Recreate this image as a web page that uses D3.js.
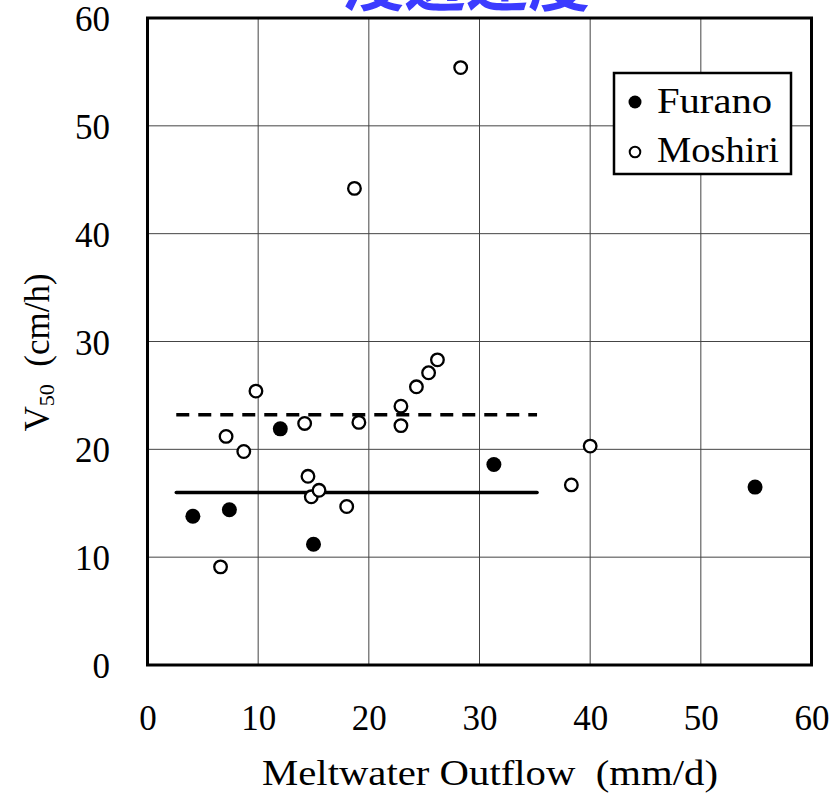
<!DOCTYPE html>
<html lang="ja">
  <head>
    <meta charset="UTF-8" />
    <title>V50 vs Meltwater Outflow</title>
    <style>
      html, body { margin: 0; padding: 0; background: #fff; }
      svg { display: block; }
      .serif { font-family: "Liberation Serif", "DejaVu Serif", serif; }
    </style>
  </head>
  <body>
    <svg width="836" height="793"></svg>

    <script src="https://d3js.org/d3.v7.min.js"></script>
    <script>
      // Furano (filled circles): [outflow mm/d, V50 cm/h]
      const furanoX = [4.1, 7.4, 12.0, 15.0, 31.3, 54.9];
      const furanoY = [13.8, 14.4, 21.9, 11.2, 18.6, 16.5];

      // Moshiri (open circles)
      const moshiriX = [6.6, 7.1, 8.7, 9.8, 14.2, 14.5, 14.8, 15.5, 18.0, 18.7,
        19.1, 22.9, 22.9, 24.3, 25.4, 26.2, 28.3, 38.3, 40.0];
      const moshiriY = [9.1, 21.2, 19.8, 25.4, 22.4, 17.5, 15.6, 16.2, 14.7, 44.2,
        22.5, 24.0, 22.2, 25.8, 27.1, 28.3, 55.4, 16.7, 20.3];

      // mean lines: [x start, x end, y]
      const meanFurano = [2.6, 35.2, 16.0];
      const meanMoshiri = [2.6, 35.2, 23.2];

      const xTicks = [0, 10, 20, 30, 40, 50, 60];
      const yTicks = [0, 10, 20, 30, 40, 50, 60];

      const svg = d3.select("svg");

      const pLeft = 147.5, pRight = 811.5, pTop = 18, pBottom = 665;

      const x = d3.scaleLinear().domain([0, 60]).range([pLeft, pRight]);
      const y = d3.scaleLinear().domain([0, 60]).range([pBottom, pTop]);

      // title, cut off by the top edge
      svg
        .append("text")
        .attr("x", 466)
        .attr("y", 6)
        .attr("text-anchor", "middle")
        .attr("fill", "#3b3bff")
        .style("font-family", '"Noto Sans CJK JP", sans-serif')
        .style("font-weight", "bold")
        .style("font-size", "62px")
        .text("浸透速度");

      // grid
      svg
        .append("g")
        .selectAll("line")
        .data(xTicks.slice(1, -1))
        .join("line")
        .attr("x1", (d) => x(d))
        .attr("x2", (d) => x(d))
        .attr("y1", pTop)
        .attr("y2", pBottom)
        .attr("stroke", "#444")
        .attr("stroke-width", 1);

      svg
        .append("g")
        .selectAll("line")
        .data(yTicks.slice(1, -1))
        .join("line")
        .attr("x1", pLeft)
        .attr("x2", pRight)
        .attr("y1", (d) => y(d))
        .attr("y2", (d) => y(d))
        .attr("stroke", "#444")
        .attr("stroke-width", 1);

      // frame
      svg
        .append("rect")
        .attr("x", pLeft)
        .attr("y", pTop)
        .attr("width", pRight - pLeft)
        .attr("height", pBottom - pTop)
        .attr("fill", "none")
        .attr("stroke", "#000")
        .attr("stroke-width", 3);

      // axes (labels only)
      const xAxis = d3.axisBottom(x).tickValues(xTicks).tickSize(0).tickPadding(40);
      const gx = svg
        .append("g")
        .attr("transform", `translate(0,${pBottom})`)
        .call(xAxis);
      gx.select(".domain").remove();
      gx.selectAll("text")
        .attr("class", "serif")
        .attr("fill", "#000")
        .style("font-size", "35px");

      const yAxis = d3.axisLeft(y).tickValues(yTicks).tickSize(0).tickPadding(37.5);
      const gy = svg
        .append("g")
        .attr("transform", `translate(${pLeft},0)`)
        .call(yAxis);
      gy.select(".domain").remove();
      gy.selectAll("text")
        .attr("class", "serif")
        .attr("fill", "#000")
        .attr("dy", "0.36em")
        .style("font-size", "35px");

      // axis titles
      svg
        .append("text")
        .attr("class", "serif")
        .attr("x", 490)
        .attr("y", 785)
        .attr("text-anchor", "middle")
        .attr("textLength", 456)
        .attr("lengthAdjust", "spacingAndGlyphs")
        .style("font-size", "35px")
        .text("Meltwater Outflow\u2002(mm/d)");

      const yt = svg
        .append("text")
        .attr("class", "serif")
        .attr("transform", `translate(49,${(pTop + pBottom) / 2 + 11}) rotate(-90)`)
        .attr("text-anchor", "middle")
        .style("font-size", "35px");
      yt.append("tspan").text("V");
      yt.append("tspan").attr("dy", 5).style("font-size", "22px").text("50");
      yt.append("tspan").attr("dy", -5).text("\u2002(cm/h)");

      // mean lines
      const line = d3.line().x((d) => x(d[0])).y((d) => y(d[1]));
      svg
        .append("path")
        .attr("d", line([[meanFurano[0], meanFurano[2]], [meanFurano[1], meanFurano[2]]]))
        .attr("stroke", "#000")
        .attr("stroke-width", 3.5)
        .attr("stroke-linecap", "round");
      svg
        .append("path")
        .attr("d", line([[meanMoshiri[0], meanMoshiri[2]], [meanMoshiri[1], meanMoshiri[2]]]))
        .attr("stroke", "#000")
        .attr("stroke-width", 3.5)
        .attr("stroke-dasharray", "13 9");

      // points
      const moshiri = moshiriX.map((v, i) => [v, moshiriY[i]]);
      const furano = furanoX.map((v, i) => [v, furanoY[i]]);

      svg
        .append("g")
        .selectAll("circle")
        .data(moshiri)
        .join("circle")
        .attr("cx", (d) => x(d[0]))
        .attr("cy", (d) => y(d[1]))
        .attr("r", 6.3)
        .attr("fill", "#fff")
        .attr("stroke", "#000")
        .attr("stroke-width", 2.3);

      svg
        .append("g")
        .selectAll("circle")
        .data(furano)
        .join("circle")
        .attr("cx", (d) => x(d[0]))
        .attr("cy", (d) => y(d[1]))
        .attr("r", 7.5)
        .attr("fill", "#000");

      // legend
      const lg = svg.append("g").attr("transform", "translate(614,73)");
      lg.append("rect")
        .attr("width", 177)
        .attr("height", 101)
        .attr("fill", "#fff")
        .attr("stroke", "#000")
        .attr("stroke-width", 2.5);
      lg.append("circle").attr("cx", 21).attr("cy", 29).attr("r", 6.5).attr("fill", "#000");
      lg.append("circle")
        .attr("cx", 21)
        .attr("cy", 79)
        .attr("r", 5.3)
        .attr("fill", "#fff")
        .attr("stroke", "#000")
        .attr("stroke-width", 2);
      lg.append("text")
        .attr("class", "serif")
        .attr("x", 43)
        .attr("y", 40)
        .attr("textLength", 115)
        .attr("lengthAdjust", "spacingAndGlyphs")
        .style("font-size", "35px")
        .text("Furano");
      lg.append("text")
        .attr("class", "serif")
        .attr("x", 43)
        .attr("y", 89)
        .attr("textLength", 122)
        .attr("lengthAdjust", "spacingAndGlyphs")
        .style("font-size", "35px")
        .text("Moshiri");
    </script>
  </body>
</html>
